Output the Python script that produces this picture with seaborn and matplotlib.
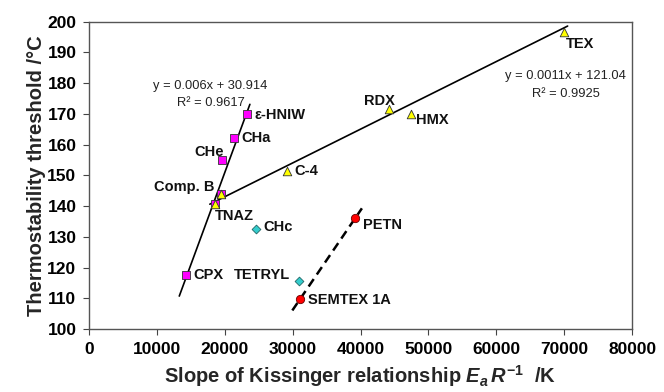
import matplotlib
matplotlib.use("Agg")
import matplotlib.pyplot as plt
import seaborn as sns
import numpy as np
import pandas as pd

# ---- data ----
sq_names = ["CPX", "TNAZ", "Comp. B", "CHe", "CHa", "ε-HNIW"]
sq_x = [14220, 18540, 19470, 19620, 21340, 23210]
sq_y = [117.6, 140.6, 143.8, 155.0, 162.3, 169.9]

tri_names = ["TNAZ", "Comp. B", "C-4", "RDX", "HMX", "TEX"]
tri_x = [18540, 19470, 29200, 44250, 47450, 69910]
tri_y = [140.6, 143.8, 151.4, 171.5, 170.0, 196.5]

dia_names = ["CHc", "TETRYL"]
dia_x = [24590, 30970]
dia_y = [132.5, 115.7]

cir_names = ["SEMTEX 1A", "PETN"]
cir_x = [31080, 39190]
cir_y = [109.7, 136.0]

fit1_slope, fit1_icpt = 0.006, 30.914
fit1_r2 = 0.9617
fit1_range = [13300, 23700]
fit2_slope, fit2_icpt = 0.0011, 121.04
fit2_r2 = 0.9925
fit2_range = [17800, 70500]
fit3_range = [29950, 40200]

x_ticks = list(range(0, 80001, 10000))
y_ticks = list(range(100, 201, 10))

# ---- style ----
sns.set_theme(style="white")
plt.rcParams["font.family"] = ["Liberation Sans", "DejaVu Sans"]
plt.rcParams["mathtext.fontset"] = "custom"
plt.rcParams["mathtext.it"] = "Liberation Sans:bold:italic"
plt.rcParams["mathtext.rm"] = "Liberation Sans:bold"
plt.rcParams["mathtext.bf"] = "Liberation Sans:bold"

fig = plt.figure(figsize=(6.64, 3.92), dpi=100)
ax = fig.add_axes([0.134, 0.1607, 0.818, 0.7839])

# trend lines
def line_df(rng, slope, icpt):
    xs = np.array(rng, dtype=float)
    return pd.DataFrame({"x": xs, "y": slope * xs + icpt})

d1 = line_df(fit1_range, fit1_slope, fit1_icpt)
d2 = line_df(fit2_range, fit2_slope, fit2_icpt)
p3 = np.polyfit(cir_x, cir_y, 1)
d3 = line_df(fit3_range, p3[0], p3[1])

sns.lineplot(data=d1, x="x", y="y", ax=ax, color="black", lw=1.2, zorder=2)
sns.lineplot(data=d2, x="x", y="y", ax=ax, color="black", lw=1.2, zorder=2)
sns.lineplot(data=d3, x="x", y="y", ax=ax, color="black", lw=1.8, zorder=2)
ax.lines[-1].set_dashes((3.6, 2.2))

# markers
sns.scatterplot(x=sq_x, y=sq_y, ax=ax, marker="s", s=34, color="#FF00FF",
                edgecolor="#333333", linewidth=0.6, zorder=3)
sns.scatterplot(x=tri_x, y=tri_y, ax=ax, marker="^", s=38, color="#FFFF00",
                edgecolor="#333333", linewidth=0.6, zorder=4)
sns.scatterplot(x=dia_x, y=dia_y, ax=ax, marker="D", s=20, color="#33CCCC",
                edgecolor="#226666", linewidth=0.6, zorder=3)
sns.scatterplot(x=cir_x, y=cir_y, ax=ax, marker="o", s=36, color="#FF0000",
                edgecolor="#660000", linewidth=0.6, zorder=3)

lab_kw = dict(textcoords="offset pixels", fontsize=10.5, fontweight="bold",
              color="#111111", zorder=5)

def lab(name, x, y, dx, dy, ha="left", va="center"):
    ax.annotate(name, (x, y), xytext=(dx, dy), ha=ha, va=va, **lab_kw)

offsets = {
    "ε-HNIW": (8, -1, "left"),
    "CHa": (8, 0, "left"),
    "CHe": (2, 8, "right"),
    "Comp. B": (-7, 7, "right"),
    "CPX": (8, 0, "left"),
    "TNAZ": (0, -12, "left"),
    "C-4": (7, 0, "left"),
    "RDX": (-10, 8, "center"),
    "HMX": (5, -6, "left"),
    "TEX": (2, -12, "left"),
    "CHc": (7, 2, "left"),
    "TETRYL": (-9, 6, "right"),
    "SEMTEX 1A": (8, -1, "left"),
    "PETN": (8, -7, "left"),
}
done = set()
for names, xs, ys in [(sq_names, sq_x, sq_y), (tri_names, tri_x, tri_y),
                      (dia_names, dia_x, dia_y), (cir_names, cir_x, cir_y)]:
    for n, x, y in zip(names, xs, ys):
        if n in done:
            continue
        done.add(n)
        dx, dy, ha = offsets[n]
        lab(n, x, y, dx, dy, ha=ha)

# equations
eq_kw = dict(fontsize=9.3, color="#222222", ha="center", va="center",
             transform=ax.transData)
ax.text(17900, 179.0, f"y = {fit1_slope}x + {fit1_icpt}", **eq_kw)
ax.text(17900, 173.4, f"R² = {fit1_r2}", **eq_kw)
ax.text(70200, 182.3, f"y = {fit2_slope}x + {fit2_icpt}", **eq_kw)
ax.text(70200, 176.6, f"R² = {fit2_r2}", **eq_kw)

# axes
ax.set_xlim(0, 80000)
ax.set_ylim(100, 200)
ax.set_xticks(x_ticks)
ax.set_yticks(y_ticks)
ax.set_xticklabels([str(t) for t in x_ticks], fontsize=12.5, fontweight="bold")
ax.set_yticklabels([str(t) for t in y_ticks], fontsize=12.5, fontweight="bold")
ax.tick_params(axis="both", direction="out", length=4, width=0.8,
               colors="#444444", labelcolor="black", pad=5,
               bottom=True, left=True)
for sp in ax.spines.values():
    sp.set_visible(True)
    sp.set_color("#555555")
    sp.set_linewidth(1.0)
ax.set_xlabel(r"Slope of Kissinger relationship $E_a\,R^{-1}$  /K",
              fontsize=14.5, fontweight="bold", labelpad=5)
ax.set_ylabel("Thermostability threshold /°C", fontsize=14.5,
              fontweight="bold", labelpad=1)
ax.grid(False)

fig.savefig("out.png", dpi=100)
